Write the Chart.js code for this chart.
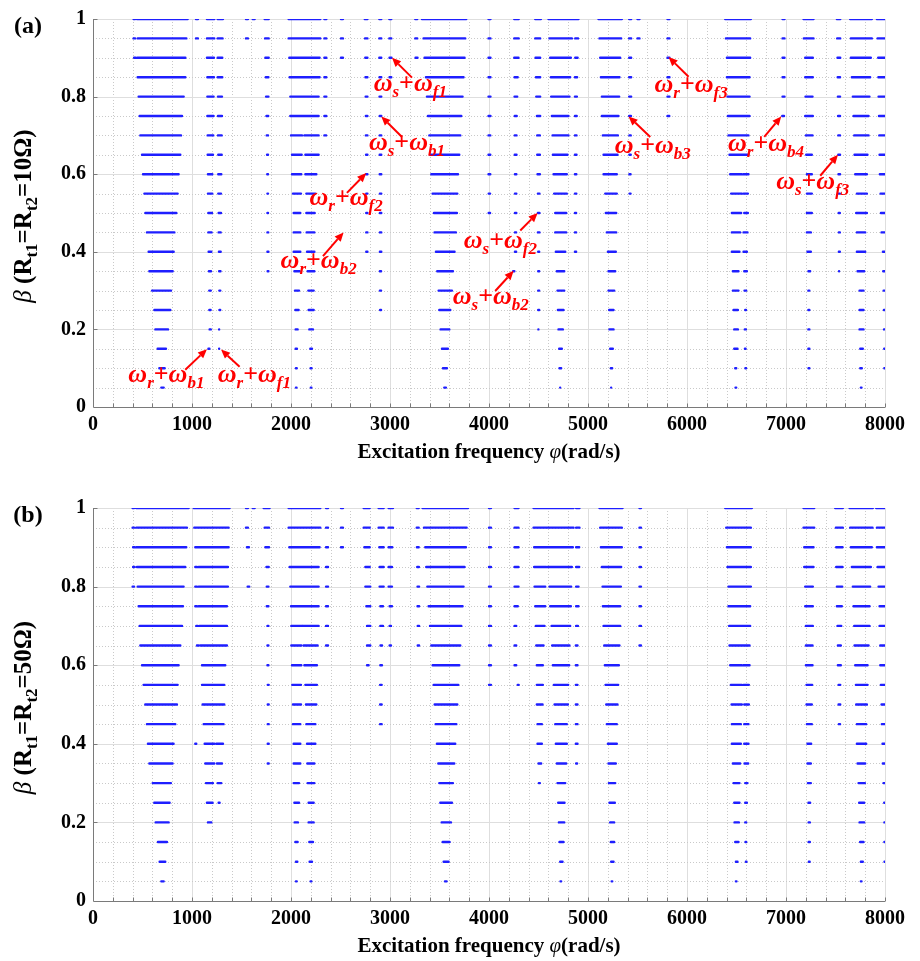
<!DOCTYPE html>
<html>
<head>
<meta charset="utf-8">
<script src="https://cdn.jsdelivr.net/npm/chart.js@4.4.1/dist/chart.umd.min.js"></script>
<style>
  body { margin: 0; background: #fff; }
  #wrap { position: relative; width: 920px; height: 961px; }
  .panel { position: absolute; left: 0; width: 920px; }
</style>
</head>
<body>
<div id="wrap">
  <div class="panel" style="top:0;height:470px"><canvas id="chartA"></canvas></div>
  <div class="panel" style="top:470px;height:491px"><canvas id="chartB"></canvas></div>
</div>
<script>
// beta levels, top row first
const betaLevels = [1, 0.95, 0.9, 0.85, 0.8, 0.75, 0.7, 0.65, 0.6, 0.55, 0.5, 0.45, 0.4, 0.35, 0.3, 0.25, 0.2, 0.15, 0.1, 0.05];

// unstable bands (rad/s) for Rt1=Rt2=10 ohm, one row per beta level
const bandsA = [
  [[410,425],[444,956],[1040,1060],[1151,1225],[1259,1313],[1545,1565],[1613,1633],[1734,1775],[1976,2296],[2337,2357],[2505,2525],[2745,2772],[2892,2912],[2993,3013],[3255,3275],[3323,3770],[3995,4015],[4255,4300],[4467,4524],[4601,4854],[4871,4904],[5106,5342],[5416,5436],[5500,5520],[5803,5823],[6386,6645],[6965,6985],[7177,7278],[7514,7548],[7648,7867],[7918,8000]],
  [[410,425],[451,943],[1040,1060],[1151,1225],[1259,1309],[1545,1565],[1738,1775],[1976,2296],[2337,2357],[2505,2525],[2748,2772],[2892,2912],[2993,3013],[3255,3275],[3339,3760],[3995,4015],[4255,4300],[4467,4517],[4611,4837],[4871,4900],[5116,5335],[5416,5436],[5500,5520],[5803,5823],[6393,6638],[6965,6985],[7180,7278],[7517,7548],[7655,7867],[7925,8000]],
  [[415,430],[447,933],[1151,1222],[1259,1306],[1741,1775],[1983,2289],[2337,2357],[2505,2525],[2750,2772],[2892,2912],[2995,3015],[3258,3278],[3349,3753],[3995,4015],[4255,4298],[4470,4517],[4618,4827],[4871,4895],[5123,5325],[5416,5436],[5803,5823],[6403,6638],[6965,6985],[7194,7271],[7520,7548],[7655,7857],[7931,8000]],
  [[451,933],[1155,1222],[1259,1306],[1745,1772],[1986,2289],[2337,2357],[2752,2772],[2894,2912],[2995,3013],[3363,3743],[3995,4015],[4258,4290],[4474,4517],[4625,4820],[4868,4890],[5130,5318],[5416,5436],[5803,5823],[6403,6632],[6965,6985],[7194,7271],[7522,7546],[7665,7850],[7933,8000]],
  [[461,916],[1155,1218],[1262,1303],[1748,1772],[1993,2279],[2337,2357],[2754,2772],[2894,2912],[3373,3733],[3995,4015],[4258,4285],[4477,4517],[4628,4813],[4868,4888],[5140,5315],[5416,5436],[5803,5823],[6409,6632],[6965,6985],[7197,7268],[7524,7546],[7675,7843],[7935,8000]],
  [[471,899],[1155,1218],[1262,1303],[1752,1770],[1993,2279],[2337,2357],[2756,2772],[2896,2912],[3383,3720],[3995,4015],[4260,4280],[4484,4517],[4635,4803],[4868,4886],[5140,5308],[5416,5434],[5803,5821],[6413,6632],[6962,6980],[7194,7271],[7526,7546],[7682,7834],[7939,8000]],
  [[478,889],[1158,1215],[1262,1300],[1755,1768],[2000,2111],[2135,2279],[2337,2355],[2756,2772],[2896,2912],[3397,3710],[3995,4013],[4260,4278],[4487,4514],[4642,4803],[4868,4884],[5150,5302],[5418,5432],[6419,6621],[7201,7268],[7528,7546],[7689,7834],[7942,8000]],
  [[495,882],[1158,1212],[1265,1300],[1758,1768],[2010,2108],[2145,2279],[2758,2772],[2896,2912],[3407,3700],[3995,4013],[4260,4278],[4487,4514],[4645,4793],[4868,4884],[5157,5298],[5418,5432],[6429,6621],[7204,7261],[7528,7546],[7692,7823],[7945,8000]],
  [[505,865],[1161,1205],[1265,1296],[1760,1768],[2010,2104],[2145,2256],[2758,2772],[2896,2912],[3417,3687],[3995,4013],[4262,4276],[4490,4514],[4652,4786],[4868,4882],[5157,5291],[5418,5430],[6436,6554],[6571,6621],[7211,7261],[7530,7546],[7699,7817],[7948,8000]],
  [[519,855],[1161,1205],[1265,1293],[1762,1768],[2020,2101],[2155,2246],[2760,2772],[2898,2912],[3430,3680],[3997,4011],[4262,4276],[4494,4510],[4658,4786],[4868,4882],[5174,5291],[5420,5430],[6446,6554],[6571,6615],[7211,7261],[7532,7544],[7716,7817],[7955,8000]],
  [[529,842],[1165,1202],[1269,1293],[1762,1768],[2027,2094],[2155,2239],[2760,2772],[2898,2912],[3444,3676],[3997,4011],[4262,4276],[4494,4510],[4669,4780],[4868,4880],[5180,5285],[6453,6547],[6578,6615],[7211,7261],[7532,7544],[7709,7817],[7959,8000]],
  [[545,822],[1165,1198],[1269,1290],[1762,1770],[2027,2094],[2158,2236],[2760,2772],[2898,2912],[3450,3666],[4262,4274],[4494,4510],[4669,4780],[4868,4880],[5190,5285],[6453,6537],[6571,6611],[7211,7251],[7534,7544],[7716,7800],[7965,8000]],
  [[562,815],[1168,1195],[1272,1290],[1762,1772],[2027,2094],[2162,2236],[2760,2772],[2898,2912],[3464,3652],[4262,4274],[4497,4507],[4675,4770],[4868,4880],[5201,5281],[6453,6530],[6571,6605],[7217,7251],[7534,7544],[7716,7800],[7979,8000]],
  [[569,805],[1171,1192],[1274,1288],[1764,1772],[2034,2087],[2168,2236],[2898,2910],[3477,3636],[4244,4256],[4497,4507],[4685,4760],[5207,5275],[6463,6520],[6578,6605],[7227,7244],[7536,7544],[7723,7790],[7982,8000]],
  [[596,788],[1174,1190],[1276,1286],[2040,2081],[2175,2229],[2898,2910],[3491,3626],[4497,4507],[4692,4760],[5207,5265],[6463,6520],[6581,6598],[7226,7236],[7743,7783],[7986,8000]],
  [[620,781],[1175,1188],[1277,1285],[2044,2077],[2178,2229],[2900,2910],[3498,3609],[4497,4507],[4696,4753],[5214,5258],[6470,6514],[6588,6596],[7226,7236],[7743,7783],[7989,8000]],
  [[630,758],[1178,1190],[1274,1282],[2047,2067],[2185,2222],[3511,3599],[4499,4505],[4702,4746],[5217,5258],[6477,6514],[6584,6595],[7226,7236],[7743,7783],[7990,8000]],
  [[653,737],[1166,1176],[1274,1282],[2047,2060],[2195,2212],[3525,3585],[4709,4736],[5224,5251],[6477,6510],[6585,6592],[7226,7236],[7750,7776],[7992,8000]],
  [[670,724],[2050,2058],[2198,2208],[3535,3575],[4712,4729],[5231,5244],[6487,6497],[6590,6597],[7228,7236],[7750,7766],[7993,8000]],
  [[690,714],[2050,2056],[2200,2206],[3548,3565],[4719,4726],[5234,5241],[6490,6497],[7756,7763]]
];

// unstable bands (rad/s) for Rt1=Rt2=50 ohm
const bandsB = [
  [[400,415],[437,966],[1017,1380],[1545,1565],[1613,1633],[1724,1784],[1976,2296],[2354,2374],[2505,2525],[2734,2795],[2885,2936],[2986,3030],[3270,3290],[3329,3788],[4000,4020],[4258,4298],[4450,4854],[4880,4914],[5116,5349],[5520,5535],[6386,6655],[7177,7285],[7497,7574],[7642,7877],[7911,8000]],
  [[400,415],[437,949],[1023,1370],[1545,1565],[1734,1778],[1976,2296],[2354,2374],[2505,2525],[2734,2795],[2885,2936],[2986,3030],[3270,3290],[3343,3774],[4000,4020],[4258,4298],[4450,4854],[4880,4914],[5123,5342],[5520,5535],[6396,6645],[7177,7285],[7504,7574],[7648,7874],[7918,8000]],
  [[405,420],[437,942],[1033,1370],[1555,1575],[1741,1778],[1983,2289],[2354,2374],[2505,2525],[2741,2795],[2892,2936],[2986,3023],[3272,3290],[3356,3767],[4000,4020],[4258,4298],[4456,4847],[4880,4911],[5130,5342],[5520,5535],[6403,6645],[7184,7278],[7507,7571],[7655,7867],[7918,8000]],
  [[405,420],[444,932],[1033,1050],[1067,1363],[1752,1775],[1986,2279],[2354,2374],[2751,2795],[2895,2936],[2986,3020],[3275,3292],[3366,3753],[4000,4020],[4258,4298],[4456,4578],[4591,4837],[4880,4911],[5140,5335],[5520,5535],[6409,6645],[7184,7278],[7507,7571],[7665,7857],[7925,8000]],
  [[400,415],[451,915],[1033,1050],[1067,1363],[1562,1578],[1755,1772],[1993,2279],[2354,2374],[2751,2801],[2895,2936],[2986,3020],[3278,3294],[3377,3743],[4000,4020],[4258,4298],[4460,4568],[4611,4830],[4880,4904],[5147,5332],[5520,5535],[6419,6645],[7194,7271],[7514,7568],[7675,7850],[7935,8000]],
  [[461,909],[1033,1050],[1067,1353],[1755,1772],[2000,2279],[2354,2374],[2761,2801],[2902,2929],[2996,3020],[3278,3294],[3390,3733],[4000,4020],[4258,4291],[4467,4568],[4618,4827],[4880,4904],[5150,5325],[5520,5535],[6419,6638],[7194,7271],[7514,7564],[7682,7844],[7945,8000]],
  [[471,899],[1043,1058],[1077,1353],[1762,1772],[2003,2111],[2118,2279],[2354,2374],[2768,2801],[2902,2929],[2996,3010],[3280,3294],[3404,3720],[4000,4020],[4258,4275],[4473,4561],[4632,4820],[4880,4898],[5157,5325],[5520,5535],[6426,6638],[7201,7271],[7520,7558],[7689,7844],[7945,8000]],
  [[478,882],[1050,1065],[1084,1353],[1762,1772],[2003,2104],[2128,2269],[2354,2374],[2768,2801],[2904,2920],[2996,3010],[3280,3294],[3417,3710],[4000,4020],[4258,4275],[4477,4551],[4638,4813],[4877,4894],[5164,5318],[5520,5535],[6429,6632],[7201,7268],[7524,7554],[7692,7834],[7952,8000]],
  [[495,865],[1101,1336],[1762,1772],[2010,2104],[2135,2262],[2768,2784],[2902,2919],[3431,3700],[4000,4020],[4258,4275],[4483,4544],[4645,4810],[4877,4894],[5170,5312],[6436,6554],[6571,6632],[7201,7268],[7524,7554],[7699,7824],[7952,8000]],
  [[511,855],[1101,1326],[1765,1775],[2013,2101],[2145,2262],[2900,2916],[3441,3690],[4000,4020],[4290,4300],[4483,4544],[4655,4800],[4877,4894],[5177,5305],[6443,6554],[6571,6625],[7207,7264],[7531,7548],[7706,7824],[7958,8000]],
  [[528,848],[1107,1326],[1765,1775],[2020,2101],[2151,2256],[2900,2916],[3451,3680],[4483,4541],[4662,4797],[4877,4894],[5184,5298],[6450,6554],[6578,6625],[7207,7261],[7531,7548],[7709,7817],[7965,8000]],
  [[545,831],[1118,1319],[1765,1775],[2020,2094],[2155,2246],[2900,2916],[3461,3670],[4490,4534],[4669,4786],[4877,4894],[5190,5291],[6453,6544],[6578,6621],[7211,7261],[7534,7546],[7716,7810],[7968,8000]],
  [[555,814],[1033,1043],[1128,1225],[1246,1313],[1765,1775],[2027,2094],[2162,2246],[3474,3659],[4490,4534],[4675,4786],[4877,4894],[5201,5291],[6453,6544],[6578,6621],[7217,7254],[7716,7810],[7975,8000]],
  [[569,804],[1134,1225],[1252,1303],[1765,1775],[2027,2094],[2165,2236],[3488,3649],[4500,4527],[4685,4780],[4880,4890],[5207,5281],[6463,6537],[6581,6618],[7217,7251],[7723,7800],[7978,8000]],
  [[603,787],[1141,1212],[1259,1296],[2027,2081],[2168,2236],[3498,3636],[4504,4514],[4692,4770],[5211,5275],[6470,6530],[6588,6611],[7221,7251],[7733,7797],[7985,8000]],
  [[619,774],[1151,1208],[1269,1279],[2034,2081],[2178,2229],[3508,3626],[4699,4763],[5217,5271],[6477,6530],[6588,6605],[7227,7244],[7739,7790],[7992,8000]],
  [[633,764],[1161,1195],[2037,2070],[2178,2229],[3522,3616],[4706,4760],[5224,5264],[6480,6524],[6588,6598],[7229,7241],[7743,7790],[7994,8000]],
  [[656,747],[2044,2067],[2185,2222],[3532,3602],[4712,4753],[5231,5264],[6487,6520],[6591,6598],[7229,7241],[7749,7783],[7994,8000]],
  [[673,730],[2050,2064],[2188,2212],[3542,3592],[4719,4743],[5234,5258],[6494,6510],[6595,6601],[7231,7239],[7756,7776],[7995,8000]],
  [[690,714],[2050,2058],[2198,2206],[3555,3572],[4722,4729],[5239,5245],[6494,6500],[7756,7763]]
];

// combination resonance labels in panel (a): omega_first + omega_second
const annoFirst  = ['s', 's', 'r', 'r', 'r', 'r', 's', 's', 'r', 's', 'r', 's'];
const annoSecond = ['f1', 'b1', 'f2', 'b2', 'b1', 'f1', 'f2', 'b2', 'f3', 'b3', 'b4', 'f3'];
const annoTip  = [[3020,0.9],[2912,0.749],[2760,0.603],[2531,0.45],[1151,0.149],[1293,0.148],[4491,0.5],[4249,0.351],[5814,0.902],[5410,0.749],[6952,0.749],[7525,0.65]];
const annoTail = [[3222,0.849],[3121,0.696],[2565,0.552],[2323,0.389],[932,0.096],[1481,0.104],[4316,0.455],[4063,0.299],[6016,0.851],[5629,0.696],[6780,0.696],[7346,0.596]];
const annoText = [[3205,0.829],[3171,0.679],[2557,0.535],[2279,0.374],[741,0.081],[1630,0.081],[4115,0.425],[4018,0.281],[6041,0.828],[5654,0.671],[6798,0.675],[7270,0.578]];

const xTickLabels = ['0', '1000', '2000', '3000', '4000', '5000', '6000', '7000', '8000'];
const yTickLabels = ['0', '0.2', '0.4', '0.6', '0.8', '1'];

const SERIF = '"Liberation Serif", "Times New Roman", serif';
const BLUE = 'rgb(30,30,255)';

function toPoints(bands) {
  const pts = [];
  bands.forEach((row, i) => {
    row.forEach(([x0, x1]) => {
      pts.push({ x: x0, y: betaLevels[i] }, { x: x1, y: betaLevels[i] }, { x: x1, y: null });
    });
  });
  return pts;
}

function drawRich(ctx, parts, cx, baseY) {
  let w = 0;
  parts.forEach(p => { ctx.font = p.font; p.w = ctx.measureText(p.t).width; w += p.w; });
  let xx = cx - w / 2;
  parts.forEach(p => {
    ctx.font = p.font;
    ctx.fillText(p.t, xx, baseY + (p.dy || 0));
    xx += p.w;
  });
}

// MATLAB-like grid: dotted minor lines, solid major lines, inward ticks
const gridPlugin = {
  id: 'matlabGrid',
  beforeDatasetsDraw(chart) {
    const { ctx, chartArea: a, scales: { x, y } } = chart;
    ctx.save();
    ctx.lineWidth = 1;
    const seg = (x0, y0, x1, y1) => { ctx.beginPath(); ctx.moveTo(x0, y0); ctx.lineTo(x1, y1); ctx.stroke(); };
    for (let v = 200; v <= 8000; v += 200) {
      const px = Math.round(x.getPixelForValue(v)) + 0.5;
      const major = v % 1000 === 0;
      ctx.strokeStyle = major ? '#dedede' : '#c9c9c9';
      ctx.setLineDash(major ? [] : [1, 2]);
      seg(px, a.top, px, a.bottom);
    }
    for (let k = 1; k <= 20; k++) {
      const py = Math.round(y.getPixelForValue(k * 0.05)) + 0.5;
      const major = k % 4 === 0;
      ctx.strokeStyle = major ? '#dedede' : '#c9c9c9';
      ctx.setLineDash(major ? [] : [1, 2]);
      seg(a.left, py, a.right, py);
    }
    ctx.setLineDash([]);
    ctx.strokeStyle = '#7a7a7a';
    const bx = Math.round(a.left) + 0.5, by = Math.round(a.bottom) + 0.5;
    seg(bx, a.top, bx, by);
    seg(bx, by, a.right, by);
    for (let v = 200; v <= 8000; v += 200) {
      const px = Math.round(x.getPixelForValue(v)) + 0.5;
      seg(px, by, px, by - 4);
    }
    for (let k = 1; k <= 5; k++) {
      const py = Math.round(y.getPixelForValue(k * 0.2)) + 0.5;
      seg(bx, py, bx + 4, py);
    }
    ctx.restore();
  }
};

// panel label, axis titles and red annotations
const textPlugin = {
  id: 'panelText',
  afterDraw(chart, args, opts) {
    const { ctx, chartArea: a, scales: { x, y } } = chart;
    ctx.save();
    ctx.fillStyle = '#000';
    ctx.textBaseline = 'alphabetic';
    ctx.textAlign = 'left';

    // (a) / (b)
    drawRich(ctx, [{ t: opts.label, font: 'bold 24px ' + SERIF }], 28, a.top + 14);

    // x title
    drawRich(ctx, [
      { t: 'Excitation frequency ', font: 'bold 21px ' + SERIF },
      { t: 'φ', font: 'italic 21px ' + SERIF },
      { t: '(rad/s)', font: 'bold 21px ' + SERIF }
    ], (a.left + a.right) / 2, a.bottom + 51);

    // y title, rotated
    ctx.save();
    ctx.translate(31, (a.top + a.bottom) / 2 + 3);
    ctx.rotate(-Math.PI / 2);
    drawRich(ctx, [
      { t: 'β', font: 'italic 25px ' + SERIF },
      { t: ' (R', font: 'bold 25px ' + SERIF },
      { t: 't1', font: 'bold 17px ' + SERIF, dy: 6 },
      { t: '=R', font: 'bold 25px ' + SERIF },
      { t: 't2', font: 'bold 17px ' + SERIF, dy: 6 },
      { t: '=' + opts.ohm + 'Ω)', font: 'bold 25px ' + SERIF }
    ], 0, 0);
    ctx.restore();

    if (opts.annotate) {
      ctx.fillStyle = '#ff0000';
      ctx.strokeStyle = '#ff0000';
      ctx.lineWidth = 2;
      annoTip.forEach((tip, i) => {
        const tx = x.getPixelForValue(tip[0]), ty = y.getPixelForValue(tip[1]);
        const sx = x.getPixelForValue(annoTail[i][0]), sy = y.getPixelForValue(annoTail[i][1]);
        const ang = Math.atan2(ty - sy, tx - sx);
        const hl = 9, hw = 4;
        const bxp = tx - hl * Math.cos(ang), byp = ty - hl * Math.sin(ang);
        ctx.beginPath();
        ctx.moveTo(sx, sy);
        ctx.lineTo(bxp, byp);
        ctx.stroke();
        ctx.beginPath();
        ctx.moveTo(tx, ty);
        ctx.lineTo(bxp + hw * Math.sin(ang), byp - hw * Math.cos(ang));
        ctx.lineTo(bxp - hw * Math.sin(ang), byp + hw * Math.cos(ang));
        ctx.closePath();
        ctx.fill();

        const cx = x.getPixelForValue(annoText[i][0]);
        const cy = y.getPixelForValue(annoText[i][1]);
        drawRich(ctx, [
          { t: 'ω', font: 'italic bold 26px ' + SERIF },
          { t: annoFirst[i], font: 'italic bold 17px ' + SERIF, dy: 6 },
          { t: '+', font: 'bold 26px ' + SERIF },
          { t: 'ω', font: 'italic bold 26px ' + SERIF },
          { t: annoSecond[i], font: 'italic bold 17px ' + SERIF, dy: 6 }
        ], cx, cy + 6);
      });
    }
    ctx.restore();
  }
};

function makeChart(id, bands, padTop, xAxisH, label, ohm, annotate) {
  const ctx = document.getElementById(id).getContext('2d');
  return new Chart(ctx, {
    type: 'line',
    data: {
      datasets: [{
        data: toPoints(bands),
        borderColor: BLUE,
        backgroundColor: BLUE,
        borderWidth: 2.4,
        borderCapStyle: 'round',
        pointRadius: 0,
        spanGaps: false,
        tension: 0
      }]
    },
    options: {
      responsive: true,
      maintainAspectRatio: false,
      animation: false,
      events: [],
      layout: { padding: { top: padTop, right: 35, left: 0, bottom: 0 } },
      plugins: {
        legend: { display: false },
        tooltip: { enabled: false },
        panelText: { label, ohm, annotate }
      },
      scales: {
        x: {
          type: 'linear', min: 0, max: 8000,
          grid: { display: false, drawTicks: false }, border: { display: false },
          ticks: {
            stepSize: 1000, autoSkip: false, maxRotation: 0, padding: 6, color: '#000',
            font: { family: SERIF, size: 20, weight: 'bold' },
            callback: (v) => xTickLabels[Math.round(v / 1000)]
          },
          afterFit: (s) => { s.height = xAxisH; }
        },
        y: {
          type: 'linear', min: 0, max: 1,
          grid: { display: false, drawTicks: false }, border: { display: false },
          ticks: {
            stepSize: 0.2, padding: 7, color: '#000',
            font: { family: SERIF, size: 20, weight: 'bold' },
            callback: (v) => yTickLabels[Math.round(v / 0.2)]
          },
          afterFit: (s) => { s.width = 93; }
        }
      }
    },
    plugins: [gridPlugin, textPlugin]
  });
}

makeChart('chartA', bandsA, 14, 63, '(a)', '10', true);
makeChart('chartB', bandsB, 38, 60, '(b)', '50', false);
</script>
</body>
</html>
